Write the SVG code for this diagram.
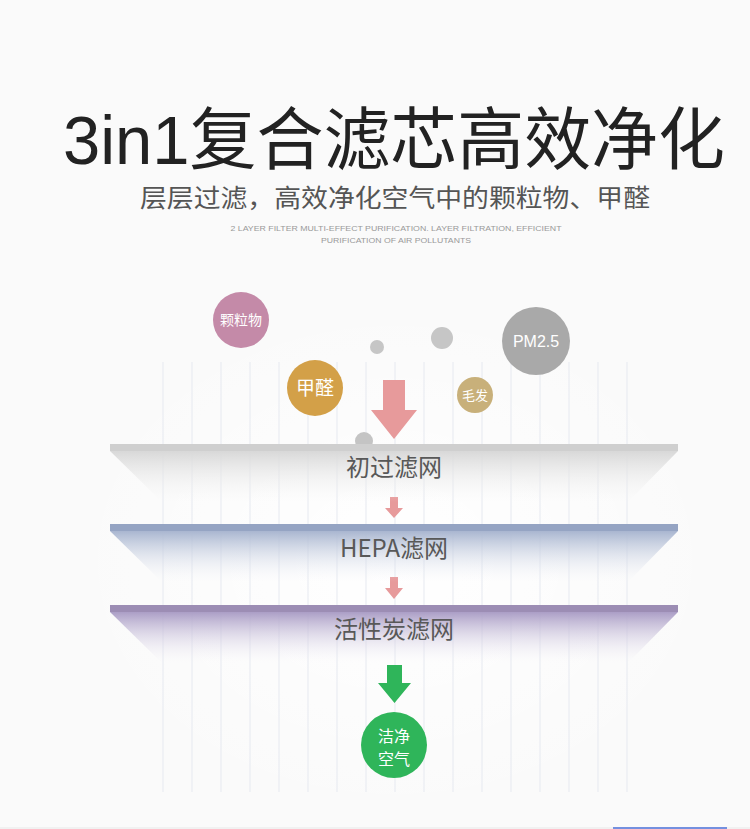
<svg xmlns="http://www.w3.org/2000/svg" width="750" height="829" viewBox="0 0 750 829">
<defs>
<style>
.cjk{font-family:"Noto Sans CJK SC","Noto Sans",sans-serif}
.lat{font-family:"Liberation Sans","Noto Sans CJK SC",sans-serif}
.vl{stroke:#e6e9f0;stroke-width:1}
.lbl{font-size:24px;fill:#585858;text-anchor:middle}
.ctext{fill:#fff;text-anchor:middle}
</style>
<radialGradient id="glow" cx="0.5" cy="0.5" r="0.5">
<stop offset="0" stop-color="#ffffff" stop-opacity="1"/>
<stop offset="1" stop-color="#ffffff" stop-opacity="0"/>
</radialGradient>
<linearGradient id="g1" x1="0" y1="0" x2="0" y2="1">
<stop offset="0" stop-color="#d8d8d8"/>
<stop offset="1" stop-color="#f4f4f4" stop-opacity="0"/>
</linearGradient>
<linearGradient id="g2" x1="0" y1="0" x2="0" y2="1">
<stop offset="0" stop-color="#a9b6d0"/>
<stop offset="1" stop-color="#eef0f6" stop-opacity="0"/>
</linearGradient>
<linearGradient id="g3" x1="0" y1="0" x2="0" y2="1">
<stop offset="0" stop-color="#ab9ec6"/>
<stop offset="1" stop-color="#f0eef6" stop-opacity="0"/>
</linearGradient>
</defs>
<rect width="750" height="829" fill="#fafafa"/>
<ellipse cx="395" cy="560" rx="330" ry="260" fill="url(#glow)"/>

<g id="title">
<text x="394" y="164" class="lat" font-size="68" fill="#222" text-anchor="middle" textLength="662" lengthAdjust="spacingAndGlyphs">3in1复合滤芯高效净化</text>
<text x="395" y="207" class="cjk" font-size="25" fill="#555" text-anchor="middle" textLength="510" lengthAdjust="spacingAndGlyphs">层层过滤，高效净化空气中的颗粒物、甲醛</text>
<text x="396" y="231" class="lat" font-size="7.5" fill="#999" text-anchor="middle" textLength="331" lengthAdjust="spacingAndGlyphs">2 LAYER FILTER MULTI-EFFECT PURIFICATION. LAYER FILTRATION, EFFICIENT</text>
<text x="396" y="243" class="lat" font-size="7.5" fill="#999" text-anchor="middle" textLength="150" lengthAdjust="spacingAndGlyphs">PURIFICATION OF AIR POLLUTANTS</text>
</g>

<g id="grid">
<line class="vl" x1="163" y1="362" x2="163" y2="792"/>
<line class="vl" x1="192" y1="362" x2="192" y2="792"/>
<line class="vl" x1="221" y1="362" x2="221" y2="792"/>
<line class="vl" x1="250" y1="362" x2="250" y2="792"/>
<line class="vl" x1="279" y1="362" x2="279" y2="792"/>
<line class="vl" x1="308" y1="362" x2="308" y2="792"/>
<line class="vl" x1="337" y1="362" x2="337" y2="792"/>
<line class="vl" x1="366" y1="362" x2="366" y2="792"/>
<line class="vl" x1="395" y1="362" x2="395" y2="792"/>
<line class="vl" x1="424" y1="362" x2="424" y2="792"/>
<line class="vl" x1="453" y1="362" x2="453" y2="792"/>
<line class="vl" x1="482" y1="362" x2="482" y2="792"/>
<line class="vl" x1="511" y1="362" x2="511" y2="792"/>
<line class="vl" x1="540" y1="362" x2="540" y2="792"/>
<line class="vl" x1="569" y1="362" x2="569" y2="792"/>
<line class="vl" x1="598" y1="362" x2="598" y2="792"/>
<line class="vl" x1="627" y1="362" x2="627" y2="792"/>
</g>

<g id="particles">
<g id="p-klw"><circle cx="241" cy="320" r="28" fill="#c48aa8"/><text x="241" y="325" class="cjk ctext" font-size="14">颗粒物</text></g>
<g id="p-jq"><circle cx="315" cy="388" r="28" fill="#d3a048"/><text x="315" y="395" class="cjk ctext" font-size="19">甲醛</text></g>
<circle cx="377" cy="347" r="7" fill="#c6c6c6"/>
<circle cx="442" cy="338" r="11" fill="#c6c6c6"/>
<g id="p-pm"><circle cx="536" cy="341" r="34" fill="#a9a9a9"/><text x="536" y="347" class="lat ctext" font-size="16">PM2.5</text></g>
<g id="p-mf"><circle cx="475" cy="395" r="18" fill="#c8b07a"/><text x="475" y="400" class="cjk ctext" font-size="13">毛发</text></g>
<circle cx="364" cy="441" r="9" fill="#c4c4c4"/>
</g>

<g id="connectors">
<polygon points="383,380 405,380 405,410 417,410 394,439 371,410 383,410" fill="#e79a9b"/>
<polygon points="390,497 398,497 398,508 403,508 394,518 385,508 390,508" fill="#e79a9b"/>
<polygon points="390,577 398,577 398,588 403,588 394,599 385,588 390,588" fill="#e79a9b"/>
<polygon points="387,665 402,665 402,683 411,683 394.5,703 378,683 387,683" fill="#2fb55a"/>
</g>

<g id="layer1">
<polygon points="110,451 678,451 628,502 162,502" fill="url(#g1)"/>
<rect x="110" y="444" width="568" height="7" fill="#cfcfcf"/>
<text x="394" y="476" class="cjk lbl">初过滤网</text>
</g>
<g id="layer2">
<polygon points="110,531 678,531 628,582 162,582" fill="url(#g2)"/>
<rect x="110" y="524" width="568" height="7" fill="#95a4c3"/>
<text x="394" y="557" class="cjk lbl">HEPA滤网</text>
</g>
<g id="layer3">
<polygon points="110,612 678,612 628,663 162,663" fill="url(#g3)"/>
<rect x="110" y="605" width="568" height="7" fill="#9c8db4"/>
<text x="394" y="638" class="cjk lbl">活性炭滤网</text>
</g>

<g id="clean">
<circle cx="394" cy="745" r="33" fill="#2fb55a"/>
<text x="394" y="742" class="cjk ctext" font-size="16">洁净</text>
<text x="394" y="765" class="cjk ctext" font-size="16">空气</text>
</g>

<line x1="0" y1="828" x2="750" y2="828" stroke="#e8e8e8" stroke-width="1"/>
<line x1="613" y1="828" x2="727" y2="828" stroke="#4a6fd8" stroke-width="1.5"/>
</svg>
